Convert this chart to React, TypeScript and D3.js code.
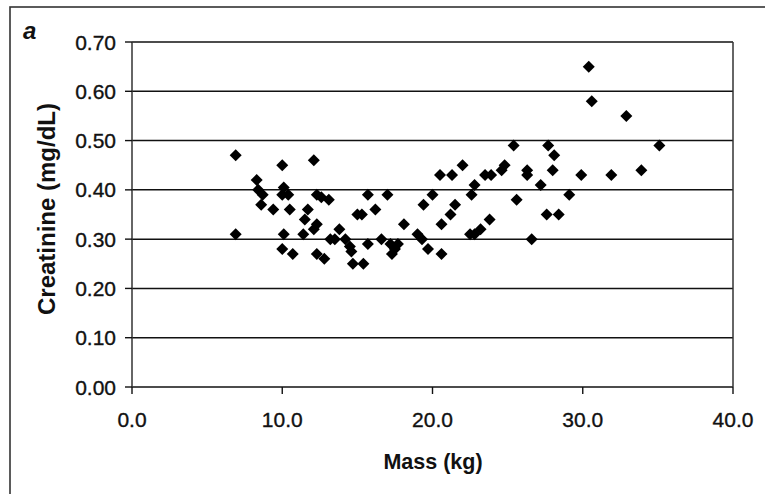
import React from "react";
import * as d3 from "d3";

const mass = [
  6.9, 6.9, 8.3, 8.4, 8.7, 8.6, 9.4, 10.0, 10.1, 10.0, 10.4, 10.5, 10.1, 10.0, 10.7,
  11.4, 11.5, 11.7, 12.1, 12.3, 12.6, 13.1, 12.3, 12.1, 12.3, 12.8, 13.2, 13.5, 13.8,
  14.2, 14.5, 14.6, 14.7, 15.4, 15.0, 15.3, 15.7, 15.7, 16.2, 16.6, 17.0, 17.2, 17.5,
  17.7, 17.3, 18.1, 19.0, 19.3, 19.4, 19.7, 20.0, 20.5, 20.6, 20.6, 21.3, 21.2, 21.5,
  22.0, 22.5, 22.8, 23.2, 22.6, 22.8, 23.5, 23.9, 23.8, 24.6, 24.8, 25.4, 25.6, 26.3,
  26.3, 26.6, 27.2, 27.6, 27.7, 28.0, 28.1, 28.4, 29.1, 29.9, 30.4, 30.6, 31.9, 32.9,
  33.9, 35.1,
];
const creatinine = [
  0.47, 0.31, 0.42, 0.40, 0.39, 0.37, 0.36, 0.45, 0.405, 0.39, 0.39, 0.36, 0.31, 0.28, 0.27,
  0.31, 0.34, 0.36, 0.46, 0.39, 0.385, 0.38, 0.33, 0.32, 0.27, 0.26, 0.30, 0.30, 0.32,
  0.30, 0.285, 0.275, 0.25, 0.25, 0.35, 0.35, 0.39, 0.29, 0.36, 0.30, 0.39, 0.29, 0.28,
  0.29, 0.27, 0.33, 0.31, 0.30, 0.37, 0.28, 0.39, 0.43, 0.33, 0.27, 0.43, 0.35, 0.37,
  0.45, 0.31, 0.31, 0.32, 0.39, 0.41, 0.43, 0.43, 0.34, 0.44, 0.45, 0.49, 0.38, 0.44,
  0.43, 0.30, 0.41, 0.35, 0.49, 0.44, 0.47, 0.35, 0.39, 0.43, 0.65, 0.58, 0.43, 0.55,
  0.44, 0.49,
];
const xTicks = [0, 10, 20, 30, 40];
const yTicks = [0, 0.1, 0.2, 0.3, 0.4, 0.5, 0.6, 0.7];
const panelLabel = "a";
const xTitle = "Mass (kg)";
const yTitle = "Creatinine (mg/dL)";

export default function App() {
  const W = 765, H = 494;
  const left = 132, right = 733, top = 42, bottom = 387;
  const x = d3.scaleLinear().domain([0, 40]).range([left, right]);
  const y = d3.scaleLinear().domain([0, 0.7]).range([bottom, top]);
  const diamond = d3.symbol(d3.symbolSquare, 72)() as string;
  const font = "'Liberation Sans', Arial, sans-serif";
  const pts = mass.map((m, i) => ({ m, c: creatinine[i] }));

  return (
    <svg
      width={W}
      height={H}
      viewBox={`0 0 ${W} ${H}`}
      style={{ position: "absolute", left: 0, top: 0, background: "#fff" }}
    >
      <rect x={0} y={0} width={W} height={H} fill="#fff" />
      <rect x={10} y={7} width={900} height={700} fill="none" stroke="#333" strokeWidth={1.6} />
      {yTicks.map((t) => (
        <line key={"g" + t} x1={left} x2={right} y1={y(t)} y2={y(t)} stroke="#111" strokeWidth={1.5} />
      ))}
      <line x1={left} x2={left} y1={top} y2={bottom} stroke="#333" strokeWidth={1.5} />
      <line x1={right} x2={right} y1={top} y2={bottom} stroke="#333" strokeWidth={1.5} />
      {yTicks.map((t) => (
        <g key={"yt" + t}>
          <line x1={left - 7} x2={left} y1={y(t)} y2={y(t)} stroke="#111" strokeWidth={1.4} />
          <text
            x={116}
            y={y(t)}
            dy="0.36em"
            textAnchor="end"
            fontFamily={font}
            fontSize={21}
            fill="#111"
            stroke="#111"
            strokeWidth={0.35}
          >
            {t.toFixed(2)}
          </text>
        </g>
      ))}
      {xTicks.map((t) => (
        <g key={"xt" + t}>
          <line x1={x(t)} x2={x(t)} y1={bottom} y2={bottom + 7} stroke="#111" strokeWidth={1.4} />
          <text
            x={x(t)}
            y={427}
            textAnchor="middle"
            fontFamily={font}
            fontSize={21}
            fill="#111"
            stroke="#111"
            strokeWidth={0.35}
          >
            {t.toFixed(1)}
          </text>
        </g>
      ))}
      {pts.map((p, i) => (
        <path
          key={i}
          d={diamond}
          transform={`translate(${x(p.m)},${y(p.c)}) rotate(45)`}
          fill="#000"
        />
      ))}
      <text x={433} y={469} textAnchor="middle" fontFamily={font} fontWeight="bold" fontSize={21.5} fill="#111">
        {xTitle}
      </text>
      <text
        transform={`translate(55,209) rotate(-90)`}
        textAnchor="middle"
        fontFamily={font}
        fontWeight="bold"
        fontSize={24}
        fill="#111"
      >
        {yTitle}
      </text>
      <text x={23} y={39} fontFamily={font} fontWeight="bold" fontStyle="italic" fontSize={24} fill="#111">
        {panelLabel}
      </text>
    </svg>
  );
}
